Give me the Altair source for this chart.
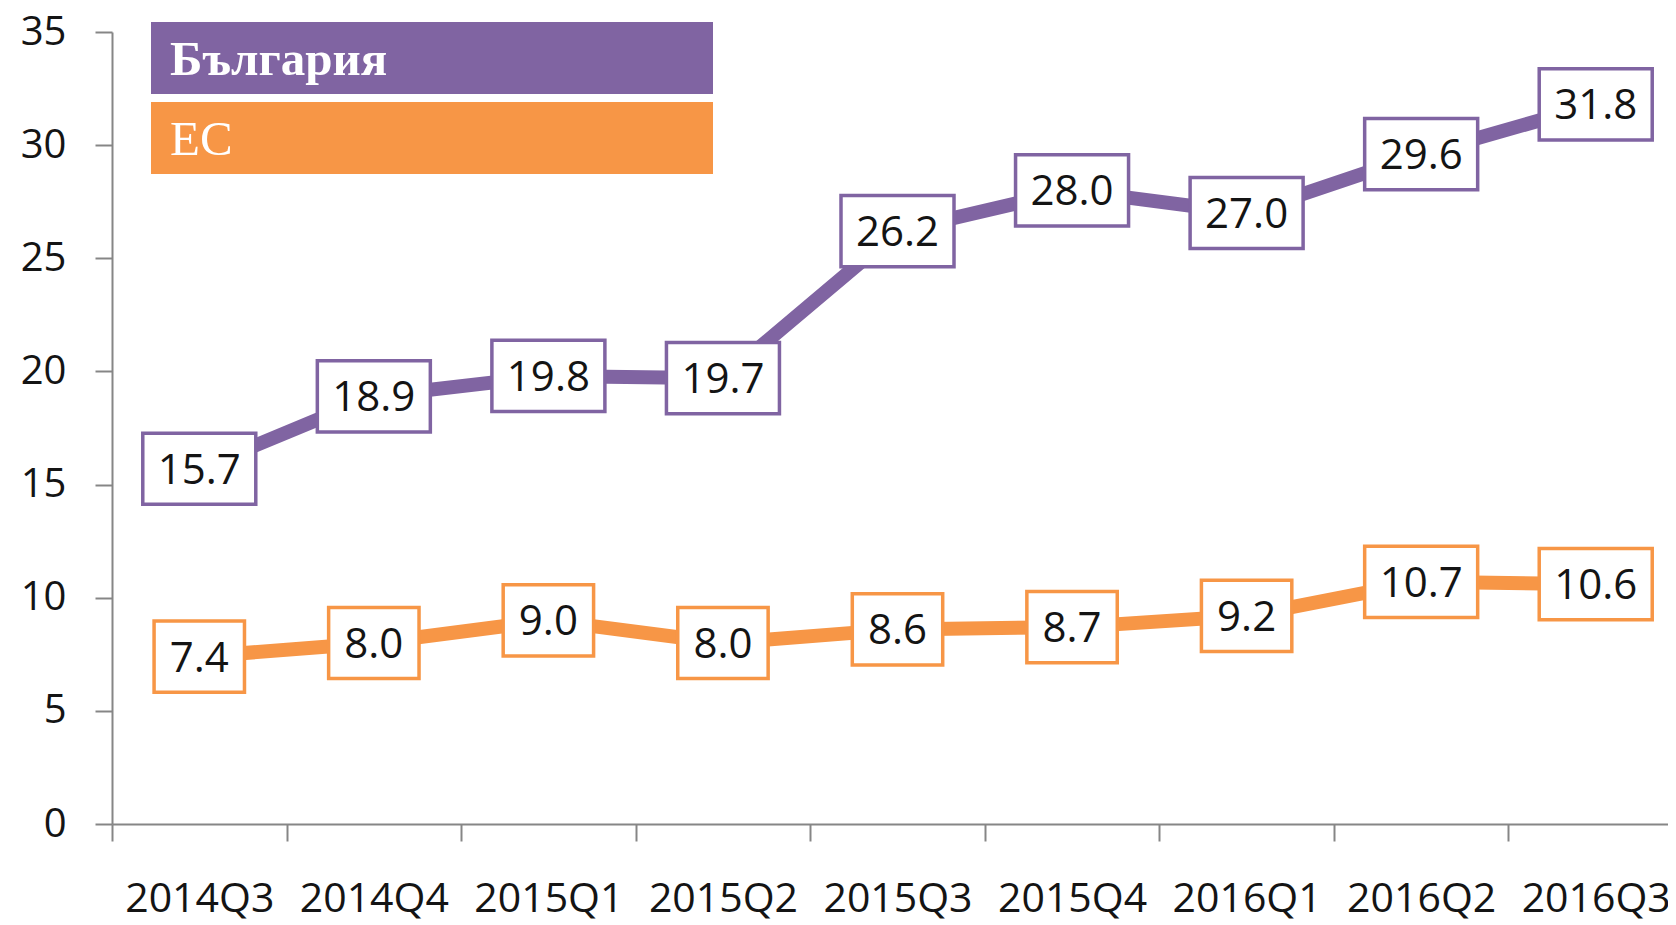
import altair as alt
import pandas as pd

quarters = ["2014Q3", "2014Q4", "2015Q1", "2015Q2", "2015Q3",
            "2015Q4", "2016Q1", "2016Q2", "2016Q3"]
bulgaria = [15.7, 18.9, 19.8, 19.7, 26.2, 28.0, 27.0, 29.6, 31.8]
eu = [7.4, 8.0, 9.0, 8.0, 8.6, 8.7, 9.2, 10.7, 10.6]
series_names = ["България", "ЕС"]
series_colors = ["#8064A2", "#F79646"]
y_ticks = [0, 5, 10, 15, 20, 25, 30, 35]

rows = []
for name, vals in zip(series_names, [bulgaria, eu]):
    for q, v in zip(quarters, vals):
        rows.append({"quarter": q, "series": name, "value": v})
df = pd.DataFrame(rows)
legend_df = pd.DataFrame({"series": series_names})

AXIS_GREY = "#868686"
TEXT = "#141414"

# label boxes (custom symbol paths, scaled by sqrt(size)/2)
BOX_SIZE = 113 * 113
box_paths = [
    "M-0.80,-0.63L0.80,-0.63L0.80,0.63L-0.80,0.63Z",  # 3 characters
    "M-1,-0.63L1,-0.63L1,0.63L-1,0.63Z",              # 4 characters
]

color_scale = alt.Scale(domain=series_names, range=series_colors)

x = alt.X(
    "quarter:N",
    sort=quarters,
    scale=alt.Scale(type="band", paddingInner=0, paddingOuter=0, range=[0, 1571]),
    axis=alt.Axis(
        title=None,
        labelAngle=0,
        labelFont="Open Sans",
        labelFontSize=41,
        labelColor=TEXT,
        labelPadding=38,
        labelOverlap=False,
        tickBand="extent",
        tickSize=17,
        tickWidth=2,
        tickColor=AXIS_GREY,
        domainColor=AXIS_GREY,
        domainWidth=2,
        grid=False,
    ),
)

y = alt.Y(
    "value:Q",
    scale=alt.Scale(domain=[0, 35], nice=False, zero=True),
    axis=alt.Axis(
        title=None,
        values=y_ticks,
        labelFont="Open Sans",
        labelFontSize=40,
        labelColor=TEXT,
        labelPadding=29,
        tickSize=17,
        tickWidth=2,
        tickColor=AXIS_GREY,
        domainColor=AXIS_GREY,
        domainWidth=2,
        grid=False,
    ),
)

base = alt.Chart(df)

lines = base.mark_line(strokeWidth=14, strokeJoin="round").encode(
    x=x, y=y, color=alt.Color("series:N", scale=color_scale, legend=None)
)

boxes = base.mark_point(
    filled=False, fill="white", fillOpacity=1, opacity=1, strokeWidth=3.5, size=BOX_SIZE
).transform_calculate(
    nchar="'n' + length(format(datum.value, '.1f'))"
).encode(
    x=x,
    y=y,
    color=alt.Color("series:N", scale=color_scale, legend=None),
    shape=alt.Shape("nchar:N", scale=alt.Scale(domain=["n3", "n4"], range=box_paths), legend=None),
)

labels = base.mark_text(
    font="Open Sans", fontSize=42, color=TEXT, baseline="middle", align="center", dy=2
).encode(
    x=x, y=y, text=alt.Text("value:Q", format=".1f")
)

main = alt.layer(lines, boxes, labels)

# legend drawn as coloured bars with the series names inside them
legend_y = alt.Y(
    "series:N",
    sort=series_names,
    scale=alt.Scale(type="band", domain=series_names, range=[-10, 142],
                    paddingInner=0.1, paddingOuter=0),
    axis=None,
)
legend_bars = alt.Chart(legend_df).mark_rect().encode(
    x=alt.value(39),
    x2=alt.value(601),
    y=legend_y,
    color=alt.Color("series:N", scale=color_scale, legend=None),
)
legend_text = alt.Chart(legend_df).mark_text(
    font="Liberation Serif",
    fontSize=49,
    color="white",
    align="left",
    baseline="middle",
    dy=2,
    fontWeight={"expr": "datum.series == 'България' ? 'bold' : 'normal'"},
).encode(
    x=alt.value(58),
    y=legend_y,
    text="series:N",
)
legend_part = alt.layer(legend_bars, legend_text)

chart = alt.layer(main, legend_part).resolve_scale(y="independent").properties(
    width=1556,
    height=792,
    autosize=alt.AutoSizeParams(type="none"),
    padding={"left": 104, "top": 24, "right": 0, "bottom": 100},
    background="white",
).configure_view(stroke=None)

chart.save("out.html", embed_options={"renderer": "svg", "actions": False})
